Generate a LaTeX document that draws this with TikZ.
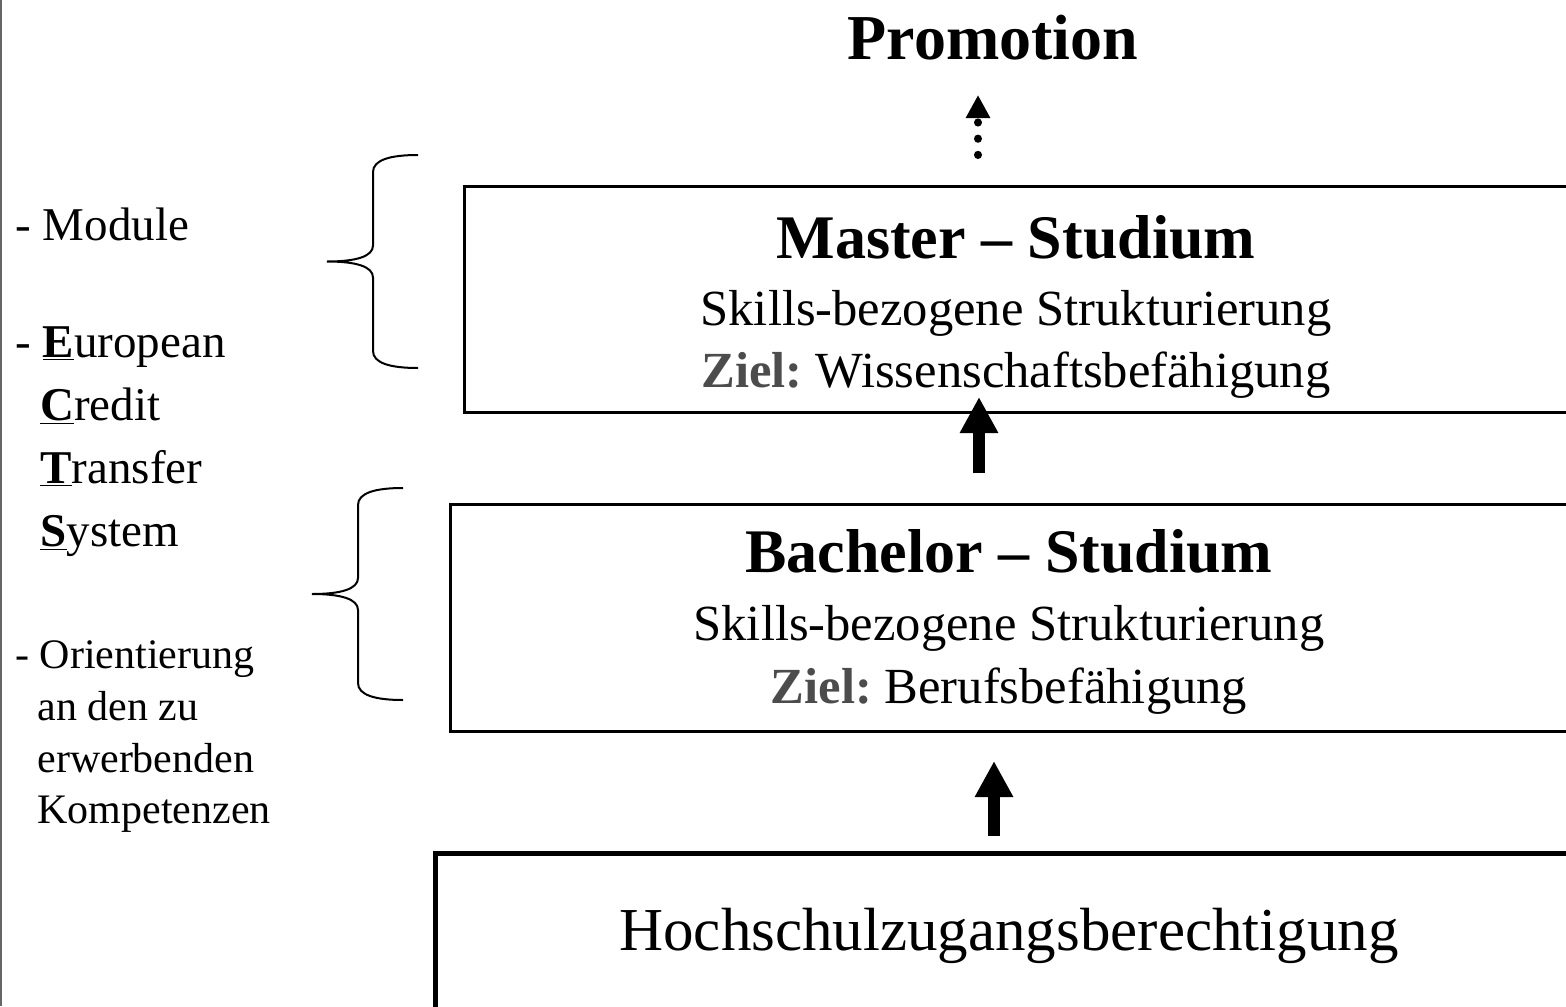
\documentclass[tikz,border=0pt]{standalone}
\usepackage{fontspec}
\setmainfont{Liberation Serif}
\usepackage{tikz}
\usetikzlibrary{arrows.meta}
\frenchspacing
% curly brace opening to the left: x of the ends, top y, bottom y
\newcommand{\curly}[3]{%
  \pgfmathsetmacro\vx{#1-45}
  \pgfmathsetmacro\tx{#1-91}
  \pgfmathsetmacro\ym{(#2+#3)/2}
  \draw[bracket] (#1,#2) .. controls (\vx+17,#2) and (\vx,#2+5) .. (\vx,#2+17)
    -- (\vx,\ym-16) .. controls (\vx,\ym-5) and (\vx-17,\ym) .. (\tx,\ym)
    .. controls (\vx-17,\ym) and (\vx,\ym+5) .. (\vx,\ym+16)
    -- (\vx,#3-17) .. controls (\vx,#3-5) and (\vx+17,#3) .. (#1,#3);
}
\newcommand{\ziel}{{\bfseries\color{black!70}Ziel:}}

\begin{document}
\begin{tikzpicture}[x=.5pt, y=-.5pt,
  stage/.style={draw, line width=1.5pt, rectangle, anchor=north west, inner sep=0pt},
  head/.style={font=\fontsize{31}{36}\selectfont\bfseries, anchor=base},
  sub/.style={font=\fontsize{25.3}{30}\selectfont, anchor=base},
  side/.style={font=\fontsize{23.5}{28}\selectfont, anchor=base west, inner sep=0pt},
  small/.style={font=\fontsize{21}{25}\selectfont, anchor=base west, inner sep=0pt},
  bracket/.style={line width=1pt},
  up/.style={line width=6pt, -{Triangle[width=18pt,length=18pt]}},
  dots/.style={line width=4pt, line cap=round, dash pattern=on 0.1pt off 8pt,
    -{Triangle[width=11.5pt,length=11.5pt]}}]

  \useasboundingbox (0,0) rectangle (1566,1006);
  \clip (0,0) rectangle (1566,1006);
  \draw[black!60, line width=1pt] (1,0) -- (1,1006);

  % stages
  \node[stage, minimum width=580pt, minimum height=113pt] (master) at (463,185) {};
  \node[stage, minimum width=590pt, minimum height=113.5pt] (bachelor) at (449,503) {};
  \node[stage, line width=2.25pt, minimum width=600pt, minimum height=120pt] (hzb) at (433,851) {};

  \node[font=\fontsize{32}{36}\selectfont\bfseries, anchor=base] (promo) at (993,60) {Promotion};

  \node[head] (mtitle) at (1016,258) {Master -- Studium};
  \node[sub] (mskills) at (1016,325) {Skills-bezogene Strukturierung};
  \node[sub] (mziel) at (1016,387) {\ziel{} Wissenschaftsbefähigung};

  \node[head] (btitle) at (1009,572) {Bachelor -- Studium};
  \node[sub] (bskills) at (1009,640) {Skills-bezogene Strukturierung};
  \node[sub] (bziel) at (1009,703) {\ziel{} Berufsbefähigung};

  \node[font=\fontsize{30.5}{36}\selectfont, anchor=base] (hzbtext) at (1009,950) {Hochschulzugangsberechtigung};

  % arrows
  \coordinate (d0) at (978,155);
  \coordinate (d1) at (978,95);
  \draw[dots] (d0) -- (d1);
  \coordinate (m0) at (979,473);
  \coordinate (m1) at (979,397);
  \draw[up] (m0) -- (m1);
  \coordinate (b0) at (994,836);
  \coordinate (b1) at (994,761);
  \draw[up] (b0) -- (b1);

  % left side
  \curly{418}{155}{368}
  \curly{403}{488}{700}
  \node[side] (module) at (15,240) {- Module};
  \node[side] (ects1) at (15,357) {- \underline{\textbf{E}}uropean};
  \node[side] (ects2) at (40,420) {\underline{\textbf{C}}redit};
  \node[side] (ects3) at (40,483) {\underline{\textbf{T}}ransfer};
  \node[side] (ects4) at (40,546) {\underline{\textbf{S}}ystem};
  \node[small] (ori1) at (15,668) {- Orientierung};
  \node[small] (ori2) at (37,720) {an den zu};
  \node[small] (ori3) at (37,772) {erwerbenden};
  \node[small] (ori4) at (37,823) {Kompetenzen};

\end{tikzpicture}
\end{document}
